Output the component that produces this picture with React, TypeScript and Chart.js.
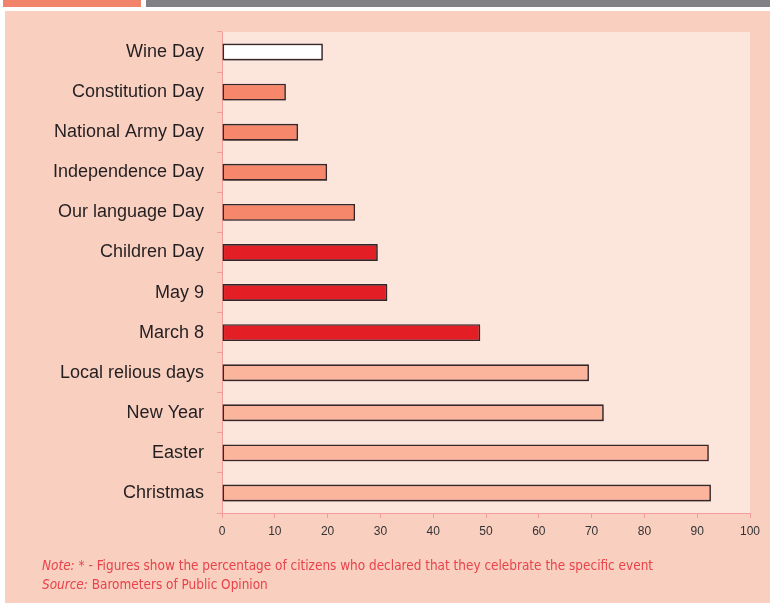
import React, { useEffect, useRef } from "react";
import { Chart, registerables } from "chart.js";

Chart.register(...registerables);

const categories = [
  "Wine Day",
  "Constitution Day",
  "National Army Day",
  "Independence Day",
  "Our language Day",
  "Children Day",
  "May 9",
  "March 8",
  "Local relious days",
  "New Year",
  "Easter",
  "Christmas",
];
const values = [19.1, 12.1, 14.4, 19.9, 25.2, 29.5, 31.3, 48.9, 69.5, 72.3, 92.2, 92.6];
const groups = ["new", "state", "state", "state", "state", "soviet", "soviet", "soviet", "religious", "religious", "religious", "religious"];
const xTicks = [0, 10, 20, 30, 40, 50, 60, 70, 80, 90, 100];

const groupColors: Record<string, string> = {
  new: "#FFFFFF",
  state: "#F7876A",
  soviet: "#E31E25",
  religious: "#FBB59D",
};

const plotBg = {
  id: "plotBg",
  beforeDraw(chart: any) {
    const { ctx, chartArea } = chart;
    ctx.save();
    ctx.fillStyle = "#FCE5DB";
    ctx.fillRect(chartArea.left, chartArea.top, chartArea.right - chartArea.left, chartArea.bottom - chartArea.top);
    ctx.restore();
  },
};

const barShadow = {
  id: "barShadow",
  beforeDatasetDraw(chart: any) {
    const ctx = chart.ctx;
    ctx.save();
    ctx.shadowColor = "rgba(60,40,40,0.35)";
    ctx.shadowOffsetX = 1.5;
    ctx.shadowOffsetY = 1.5;
    ctx.shadowBlur = 1;
  },
  afterDatasetDraw(chart: any) {
    chart.ctx.restore();
  },
};

export default function App() {
  const ref = useRef<HTMLCanvasElement>(null);
  useEffect(() => {
    if (!ref.current) return;
    const chart = new Chart(ref.current, {
      type: "bar",
      data: {
        labels: categories,
        datasets: [
          {
            data: values,
            backgroundColor: groups.map((g) => groupColors[g]),
            borderColor: "#35262A",
            borderWidth: 1.6,
            borderSkipped: false,
            barPercentage: 0.84,
            categoryPercentage: 0.5,
          },
        ],
      },
      options: {
        indexAxis: "y",
        animation: false,
        responsive: false,
        maintainAspectRatio: false,
        layout: { padding: { top: 32, right: 20, left: 0, bottom: 60 } },
        plugins: { legend: { display: false }, tooltip: { enabled: false } },
        scales: {
          x: {
            min: 0,
            max: 100,
            afterBuildTicks(scale: any) {
              scale.ticks = xTicks.map((v) => ({ value: v }));
            },
            afterFit(scale: any) {
              scale.height = 30;
            },
            grid: { drawOnChartArea: false, color: "#F29C9C", tickLength: 5 },
            border: { color: "#F29C9C", width: 1 },
            ticks: { color: "#333333", font: { family: "Liberation Sans, Arial", size: 12 }, padding: 6 },
          },
          y: {
            afterFit(scale: any) {
              scale.width = 222;
            },
            grid: { drawOnChartArea: false, color: "#F29C9C", tickLength: 5, offset: true },
            border: { color: "#F29C9C", width: 1 },
            ticks: { color: "#231F20", font: { family: "Liberation Sans, Arial", size: 18 }, padding: 13 },
          },
        },
      },
      plugins: [plotBg, barShadow],
    });
    return () => chart.destroy();
  }, []);

  const noteFont = "'DejaVu Sans Condensed', 'Liberation Sans', sans-serif";
  return (
    <div style={{ position: "absolute", left: 0, top: 0, width: 770, height: 603, background: "#FFFFFF", overflow: "hidden" }}>
      <div style={{ position: "absolute", left: 3, top: 0, width: 138, height: 7, background: "#F0836A" }} />
      <div style={{ position: "absolute", left: 146, top: 0, width: 624, height: 7, background: "#818185" }} />
      <div style={{ position: "absolute", left: 5, top: 11, width: 765, height: 592, background: "#F9CFC0" }} />
      <canvas ref={ref} width={770} height={603} style={{ position: "absolute", left: 0, top: 0, width: 770, height: 603 }} />
      <div style={{ position: "absolute", left: 42, top: 556, fontFamily: noteFont, fontSize: 14.5, lineHeight: "19px", color: "#E8424A", whiteSpace: "nowrap", transform: "scaleX(0.927)", transformOrigin: "0 0" }}>
        <div><i>Note:</i> * - Figures show the percentage of citizens who declared that they celebrate the specific event</div>
        <div><i>Source:</i> Barometers of Public Opinion</div>
      </div>
    </div>
  );
}
